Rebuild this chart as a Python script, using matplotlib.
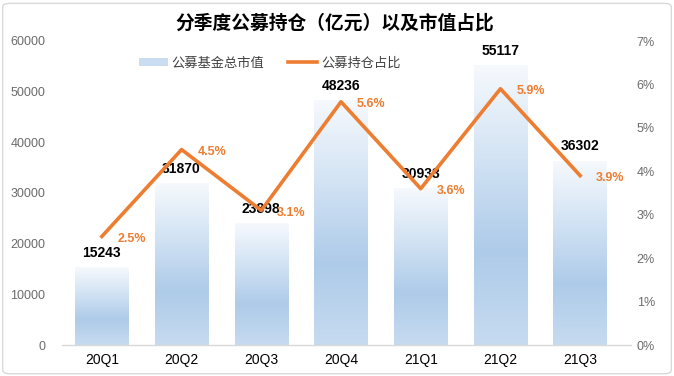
import matplotlib.pyplot as plt
import numpy as np
from matplotlib.patches import FancyBboxPatch
from matplotlib.lines import Line2D
from matplotlib.patches import Patch

plt.rcParams['font.family'] = ['Liberation Sans', 'Noto Sans CJK SC', 'DejaVu Sans']

quarters = ['20Q1', '20Q2', '20Q3', '20Q4', '21Q1', '21Q2', '21Q3']
market_value = [15243, 31870, 23898, 48236, 30933, 55117, 36302]
share_pct = [2.5, 4.5, 3.1, 5.6, 3.6, 5.9, 3.9]

orange = '#ED7D31'
gray = '#6b6b6b'

fig = plt.figure(figsize=(6.74, 3.76), dpi=100)
ax = fig.add_axes([62 / 674, 31 / 376, 558 / 674, 304 / 376])
ax2 = ax.twinx()

x = np.arange(len(quarters))
bars = ax.bar(x, market_value, width=0.67, color='none', zorder=1)

# vertical gradient inside each bar (light top -> blue bottom)
grad = np.linspace(0, 1, 256).reshape(-1, 1)
cmap = plt.matplotlib.colors.LinearSegmentedColormap.from_list(
    'g', ['#c6dbf0', '#aecbe9', '#d2e3f4', '#f6f9fd'])
for b in bars:
    x0, w, h = b.get_x(), b.get_width(), b.get_height()
    ax.imshow(grad, extent=(x0, x0 + w, 0, h), origin='lower', cmap=cmap,
              aspect='auto', zorder=1)

ax.set_xlim(-0.5, len(quarters) - 0.5)
ax.set_ylim(0, 60000)
ax.set_yticks(range(0, 60001, 10000))
ax2.set_ylim(0, 7)
ax2.set_yticks(range(0, 8))
ax2.set_yticklabels([f'{v}%' for v in range(0, 8)])

ax2.plot(x, share_pct, color=orange, linewidth=2.6, zorder=3)

for xi, v in zip(x, market_value):
    ax.text(xi, v + 1500, f'{v}', ha='center', va='bottom', fontsize=10,
            fontweight='bold', color='black', zorder=5)
for xi, p in zip(x, share_pct):
    ax2.text(xi + 0.2, p - 0.05, f'{p}%', ha='left', va='center', fontsize=9,
             fontweight='bold', color=orange, zorder=5)

for a in (ax, ax2):
    for s in a.spines.values():
        s.set_visible(False)
    a.tick_params(length=0, labelsize=9, colors=gray)
ax.tick_params(axis='x', labelsize=10, colors='black', pad=6)
ax.set_xticks(x)
ax.set_xticklabels(quarters)
ax.yaxis.set_tick_params(pad=12)
ax2.yaxis.set_tick_params(pad=12)
ax.axhline(0, color='#d9d9d9', linewidth=1, xmin=0.0, xmax=1.02, clip_on=False, zorder=2)

fig.text(0.497, 0.94, '分季度公募持仓（亿元）以及市值占比', ha='center', va='center',
         fontsize=13.5, fontweight='bold', family=['Noto Sans CJK SC'])

handles = [Patch(facecolor='#c9dcf0', edgecolor='none'),
           Line2D([0], [0], color=orange, linewidth=2.6)]
fig.legend(handles, ['公募基金总市值', '公募持仓占比'], loc='center',
           bbox_to_anchor=(0.4, 0.832), ncol=2, frameon=False,
           handlelength=2.2, handleheight=0.5, columnspacing=1.8, handletextpad=0.3,
           labelcolor='#404040', prop={'family': ['Noto Sans CJK SC'], 'size': 9.5})

border = FancyBboxPatch((0.004, 0.006), 0.992, 0.985, boxstyle='round,pad=0,rounding_size=0.01',
                        transform=fig.transFigure, facecolor='none', edgecolor='#d9d9d9',
                        linewidth=1)
fig.patches.append(border)

fig.savefig('out.png', dpi=100)
